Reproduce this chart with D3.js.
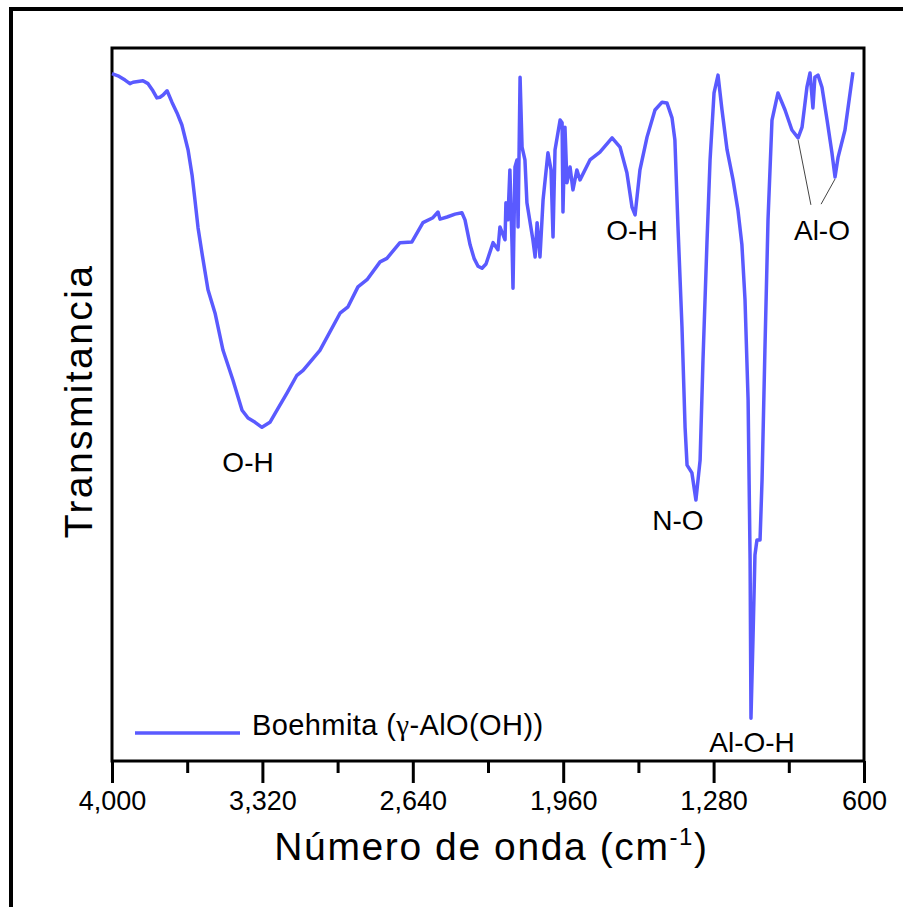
<!DOCTYPE html>
<html>
<head>
<meta charset="utf-8">
<script src="https://cdn.jsdelivr.net/npm/d3@7"></script>
<style>
  body { margin: 0; background: #fff; }
  text { font-family: "Liberation Sans", Arial, sans-serif; fill: #000; }
</style>
</head>
<body>
<script>
// wavenumber (cm-1) and transmittance (a.u.)
var wavenumber = [4000, 3973, 3941, 3919, 3905, 3860, 3837, 3815, 3797, 3783, 3769, 3751, 3729, 3706, 3684,
  3656, 3638, 3625, 3611, 3593, 3566, 3534, 3498, 3453, 3412, 3385, 3353, 3322, 3286, 3254, 3209, 3164, 3136,
  3060, 2969, 2933, 2888, 2847, 2788, 2757, 2698, 2644, 2594, 2549, 2526, 2517, 2485, 2449, 2418, 2404, 2381,
  2363, 2345, 2327, 2309, 2277, 2255, 2246, 2223, 2219, 2210, 2201, 2191, 2187, 2178, 2169, 2164, 2155, 2146,
  2133, 2124, 2097, 2087, 2078, 2065, 2051, 2029, 2015, 2006, 1997, 1974, 1965, 1961, 1952, 1943, 1929, 1916,
  1898, 1884, 1839, 1794, 1739, 1703, 1672, 1649, 1635, 1613, 1581, 1545, 1513, 1491, 1468, 1455, 1441, 1423,
  1409, 1400, 1378, 1360, 1341, 1328, 1310, 1296, 1278, 1260, 1242, 1219, 1192, 1170, 1152, 1138, 1124, 1115,
  1111, 1102, 1093, 1084, 1070, 1061, 1048, 1034, 1016, 989, 957, 926, 898, 880, 858, 844, 831, 822, 808, 790,
  767, 745, 731, 717, 686, 650];
var transmittance = [96.4, 96.1, 95.5, 95.0, 95.2, 95.4, 95.0, 94.0, 93.0, 93.1, 93.4, 94.0, 92.4, 90.9, 89.2,
  85.7, 82.2, 78.7, 74.8, 71.2, 66.1, 62.8, 57.6, 53.4, 49.2, 48.1, 47.5, 46.8, 47.5, 49.2, 51.6, 54.1, 54.8,
  57.6, 62.8, 63.7, 66.5, 67.5, 70.0, 70.5, 72.7, 72.8, 75.5, 76.2, 77.0, 76.0, 76.3, 76.7, 76.9, 75.9, 72.4,
  70.5, 69.4, 69.1, 69.7, 72.7, 71.7, 74.9, 73.1, 78.3, 75.9, 82.9, 72.1, 66.3, 83.3, 84.3, 74.9, 95.9, 86.1,
  84.3, 78.3, 73.1, 70.7, 75.5, 70.7, 78.7, 85.3, 82.9, 73.5, 85.7, 89.9, 89.5, 77.0, 88.9, 81.1, 83.3, 80.1,
  82.9, 81.5, 84.3, 85.4, 87.4, 86.1, 82.5, 77.7, 76.6, 82.9, 87.5, 91.3, 92.4, 92.3, 90.2, 87.1, 74.9, 60.9,
  46.8, 41.5, 40.4, 36.6, 42.2, 56.2, 72.7, 84.3, 93.7, 96.2, 91.3, 85.7, 81.5, 77.3, 72.4, 64.7, 50.6, 28.2,
  6.0, 17.0, 28.9, 31.0, 31.0, 39.4, 57.6, 75.9, 89.9, 93.7, 91.3, 88.5, 87.4, 88.9, 94.5, 96.5, 91.6, 95.9, 96.2, 94.5,
  89.9, 85.3, 81.9, 84.7, 88.5, 96.6];

var majorTicks = [4000, 3320, 2640, 1960, 1280, 600];
var minorTicks = [3660, 2980, 2300, 1620, 940];

var seriesName = "Boehmita (";
var peakLabels = ["O-H", "O-H", "N-O", "Al-O-H", "Al-O"];
var peakLabelWn = [3385, 1649, 1441, 1106, 790];
var peakLabelT = [40.5, 73.1, 32.4, 1.3, 73.1];
// Al-O leader lines: [wn, T] of band and of label
var leaderFrom = [[898, 87.4], [731, 81.9]];
var leaderTo = [[840, 78.0], [794, 78.1]];

function init() {
    var W = 903, H = 907;
    var left = 112, right = 864, top = 48, bottom = 761;
    var lineColor = "#5a5aff";

    var svg = d3.select("body").append("svg")
        .attr("width", W)
        .attr("height", H);

    // outer border (runs off the right and bottom edges)
    svg.append("rect")
        .attr("x", 11).attr("y", 9)
        .attr("width", 910).attr("height", 920)
        .attr("fill", "none")
        .attr("stroke", "#000")
        .attr("stroke-width", 4);

    var x = d3.scaleLinear().domain([4000, 600]).range([left, right]);
    var y = d3.scaleLinear().domain([0, 100]).range([bottom, top]);

    // x axis: major + minor ticks, outward
    var xAxis = svg.append("g")
        .attr("transform", "translate(0," + bottom + ")")
        .call(d3.axisBottom(x).tickValues(majorTicks).tickFormat(d3.format(",")).tickSize(22).tickPadding(8));
    xAxis.select(".domain").remove();
    xAxis.selectAll(".tick line").attr("stroke", "#000").attr("stroke-width", 3);
    xAxis.selectAll(".tick text")
        .attr("font-size", 27)
        .attr("font-family", "Liberation Sans, Arial, sans-serif")
        .attr("fill", "#000")
        .attr("dy", "0.71em");

    var xMinor = svg.append("g")
        .attr("transform", "translate(0," + bottom + ")")
        .call(d3.axisBottom(x).tickValues(minorTicks).tickFormat("").tickSize(12));
    xMinor.select(".domain").remove();
    xMinor.selectAll(".tick line").attr("stroke", "#000").attr("stroke-width", 3);

    // plot frame
    svg.append("rect")
        .attr("x", left).attr("y", top)
        .attr("width", right - left).attr("height", bottom - top)
        .attr("fill", "none")
        .attr("stroke", "#000")
        .attr("stroke-width", 3);

    var points = wavenumber.map(function(w, i) { return [w, transmittance[i]]; });

    var line = d3.line()
        .x(function(d) { return x(d[0]); })
        .y(function(d) { return y(d[1]); });

    svg.append("path")
        .datum(points)
        .attr("d", line)
        .attr("fill", "none")
        .attr("stroke", lineColor)
        .attr("stroke-width", 3.5)
        .attr("stroke-linejoin", "round");

    // leader lines for Al-O
    leaderFrom.forEach(function(p, i) {
        svg.append("line")
            .attr("x1", x(p[0])).attr("y1", y(p[1]) + 2)
            .attr("x2", x(leaderTo[i][0])).attr("y2", y(leaderTo[i][1]))
            .attr("stroke", "#444")
            .attr("stroke-width", 1);
    });

    // peak labels
    svg.selectAll("text.peak")
        .data(peakLabels)
        .enter()
        .append("text")
        .attr("class", "peak")
        .attr("x", function(d, i) { return x(peakLabelWn[i]); })
        .attr("y", function(d, i) { return y(peakLabelT[i]); })
        .attr("text-anchor", "middle")
        .attr("font-size", 28)
        .text(function(d) { return d; });

    // legend
    svg.append("line")
        .attr("x1", 135).attr("x2", 240)
        .attr("y1", 733).attr("y2", 733)
        .attr("stroke", lineColor)
        .attr("stroke-width", 3.5);
    var leg = svg.append("text")
        .attr("x", 252).attr("y", 735)
        .attr("font-size", 29)
        .attr("letter-spacing", 0.4);
    leg.append("tspan").text(seriesName);
    leg.append("tspan").attr("font-family", "Liberation Serif, Times New Roman, serif").text("\u03b3");
    leg.append("tspan").text("-AlO(OH))");

    // axis titles
    var xt = svg.append("text")
        .attr("x", (268 + 715) / 2).attr("y", 860)
        .attr("text-anchor", "middle")
        .attr("font-size", 39)
        .attr("letter-spacing", 1.6);
    xt.append("tspan").text("Número de onda (cm");
    xt.append("tspan").attr("font-size", 24).attr("dy", -15).text("-1");
    xt.append("tspan").attr("dy", 15).text(")");

    svg.append("text")
        .attr("transform", "translate(92,401) rotate(-90)")
        .attr("text-anchor", "middle")
        .attr("font-size", 39)
        .attr("letter-spacing", 2.4)
        .text("Transmitancia");
}

window.onload = init;
</script>
</body>
</html>
